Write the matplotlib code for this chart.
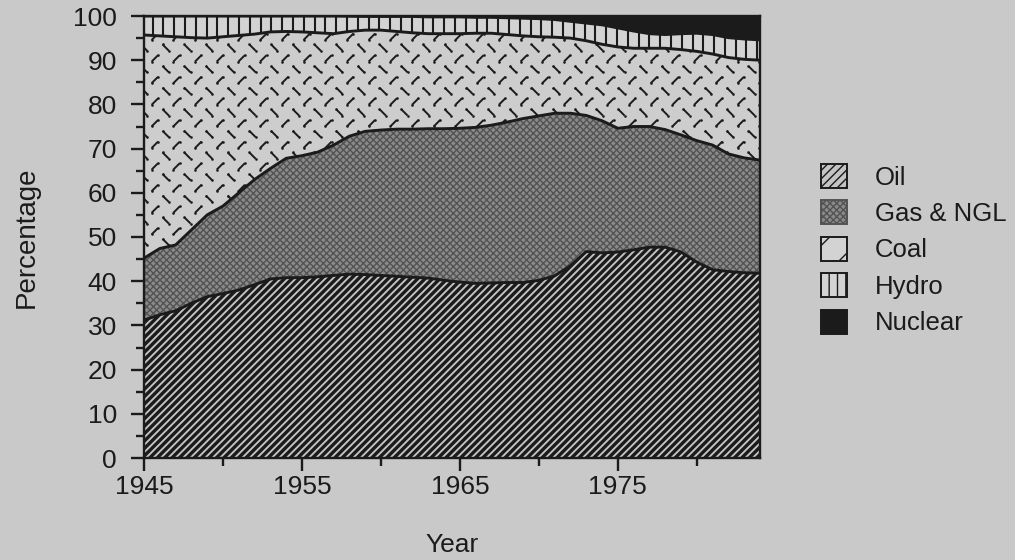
import numpy as np
import matplotlib
matplotlib.use("Agg")
import matplotlib.pyplot as plt
from matplotlib.collections import LineCollection
from matplotlib.patches import Patch

# ---------------- data (percent shares) ----------------
years = list(range(1945, 1985))
oil = [31.2, 32.4, 33.3, 35.0, 36.5, 37.2, 38.0, 39.2, 40.5, 40.8,
       40.8, 41.0, 41.3, 41.6, 41.5, 41.3, 41.1, 40.9, 40.7, 40.2,
       39.8, 39.5, 39.6, 39.7, 39.7, 40.2, 41.2, 43.5, 46.7, 46.4,
       46.6, 47.1, 47.7, 47.7, 46.6, 44.3, 42.6, 42.2, 41.9, 41.8]
gas = [14.0, 15.0, 14.9, 16.6, 18.5, 19.8, 22.0, 23.8, 25.0, 27.0,
       27.6, 28.2, 29.5, 31.2, 32.4, 32.9, 33.3, 33.5, 33.8, 34.3,
       34.8, 35.3, 35.7, 36.3, 37.1, 37.2, 36.8, 34.5, 30.8, 29.9,
       28.0, 27.9, 27.3, 26.6, 26.5, 27.5, 28.2, 26.6, 26.0, 25.6]
coal = [50.5, 48.1, 47.1, 43.5, 40.0, 38.3, 35.6, 32.9, 30.9, 28.7,
        28.0, 27.0, 25.2, 23.7, 22.9, 22.6, 22.1, 21.8, 21.5, 21.5,
        21.4, 21.3, 20.8, 19.8, 18.7, 17.9, 17.2, 17.0, 16.9, 17.3,
        18.4, 17.7, 17.7, 18.4, 19.3, 20.2, 20.6, 21.8, 22.3, 22.6]
hydro = [4.3, 4.5, 4.7, 4.9, 5.0, 4.7, 4.4, 4.1, 3.6, 3.5,
         3.6, 3.8, 4.0, 3.45, 3.1, 3.1, 3.4, 3.7, 3.8, 3.8,
         3.8, 3.6, 3.6, 3.8, 4.0, 4.1, 4.0, 3.8, 4.0, 4.4,
         4.3, 3.9, 3.3, 3.1, 3.6, 4.1, 4.4, 4.5, 4.6, 4.6]
nuclear = [0.0, 0.0, 0.0, 0.0, 0.0, 0.0, 0.0, 0.0, 0.0, 0.0,
           0.0, 0.0, 0.0, 0.05, 0.1, 0.1, 0.1, 0.1, 0.2, 0.2,
           0.2, 0.3, 0.3, 0.4, 0.5, 0.6, 0.8, 1.2, 1.6, 2.0,
           2.7, 3.4, 4.0, 4.2, 4.0, 3.9, 4.2, 4.9, 5.2, 5.4]
labels = ["Oil", "Gas & NGL", "Coal", "Hydro", "Nuclear"]
x_major = [1945, 1955, 1965, 1975]
x_minor = [1950, 1960, 1970, 1980]

# ---------------- style ----------------
plt.rcParams['font.family'] = ['Liberation Sans', 'DejaVu Sans']
BG = '#c9c9c9'
INK = '#1b1b1b'
FS = 19

fig = plt.figure(figsize=(10.15, 5.6), dpi=100, facecolor=BG)
W, H = 1015, 560
ax = fig.add_axes([144 / W, 1 - 458 / H, (760 - 144) / W, (458 - 16) / H])
ax.set_facecolor(BG)
ax.set_xlim(1945, 1984)
ax.set_ylim(0, 100)
axw, axh = 616.0, 442.0

x = np.array(years, float)
b0 = np.zeros(len(x))
b1 = b0 + np.array(oil)
b2 = b1 + np.array(gas)
b3 = b2 + np.array(coal)
b4 = b3 + np.array(hydro)
b5 = b4 + np.array(nuclear)

# oil: light base + dense diagonal stripes
p_oil = ax.fill_between(x, b0, b1, facecolor='#c4c4c4', lw=0, zorder=1)
step = 7.4 / axw
starts = np.arange(-1.0, 1.0 + step, step)
segs = [[(s, 0), (s + axh / axw, 1)] for s in starts]
lc = LineCollection(segs, colors=INK, linewidths=2.4, transform=ax.transAxes, zorder=2)
lc.set_clip_path(p_oil.get_paths()[0], ax.transData)
ax.add_collection(lc)

# gas: stippled gray
p_gas = ax.fill_between(x, b1, b2, facecolor='#8a8a8a', edgecolor='#535353',
                        hatch='xxxxx', lw=0, zorder=1)

# coal: light with small alternating dashes
p_coal = ax.fill_between(x, b2, b3, facecolor='#cdcdcd', lw=0, zorder=1)
dx, dy, hl = 21.7, 10.8, 3.2
segs = []
dots = []
row = 0
yy = 0.0
while yy < axh + dy:
    off = (dx / 2) * (row % 2)
    sgn = 1 if row % 2 else -1
    xx = off - dx
    while xx < axw + dx:
        p1 = ((xx - hl) / axw, (yy - sgn * hl) / axh)
        p2 = ((xx + hl) / axw, (yy + sgn * hl) / axh)
        segs.append([p1, p2])
        dots.extend([p1, p2])
        xx += dx
    yy += dy
    row += 1
lc2 = LineCollection(segs, colors=INK, linewidths=1.4, transform=ax.transAxes, zorder=2)
lc2.set_clip_path(p_coal.get_paths()[0], ax.transData)
ax.add_collection(lc2)
dots = np.array(dots)
sc = ax.scatter(dots[:, 0], dots[:, 1], s=3.5, c=INK, lw=0, transform=ax.transAxes, zorder=2)
sc.set_clip_path(p_coal.get_paths()[0], ax.transData)

# hydro: light with vertical bars
p_hyd = ax.fill_between(x, b3, b4, facecolor='#d3d3d3', lw=0, zorder=1)
vx = np.arange(1945 + 0.55, 1984, 10.8 / 15.8)
vl = ax.vlines(vx, 0, 100, colors=INK, linewidths=1.5, zorder=2)
vl.set_clip_path(p_hyd.get_paths()[0], ax.transData)

# nuclear: solid black
ax.fill_between(x, b4, b5, facecolor=INK, lw=0, zorder=1)

for b in (b1, b2, b3, b4):
    ax.plot(x, b, color=INK, lw=2.1, zorder=3, solid_capstyle='butt')

# axes & ticks
for s in ax.spines.values():
    s.set_linewidth(1.7)
    s.set_color(INK)
    s.set_zorder(4)
ax.set_xticks(x_major)
ax.set_xticks(x_minor, minor=True)
ax.set_yticks(np.arange(0, 101, 10))
ax.set_yticks(np.arange(5, 100, 10), minor=True)
ax.tick_params(which='major', direction='out', length=9.5, width=1.7, color=INK,
               labelsize=FS, labelcolor=INK)
ax.tick_params(which='minor', direction='out', length=5.5, width=1.7, color=INK)
ax.tick_params(axis='y', which='major', pad=10)
ax.tick_params(axis='x', which='major', pad=3)
ax.set_xlabel('Year', fontsize=FS, color=INK, labelpad=24)
ax.set_ylabel('Percentage', fontsize=20, color=INK, labelpad=24)

# legend
handles = [
    Patch(facecolor='#c4c4c4', edgecolor=INK, hatch='////', lw=1.4),
    Patch(facecolor='#8a8a8a', edgecolor='#535353', hatch='xxxxx', lw=1.4),
    Patch(facecolor='#d3d3d3', edgecolor=INK, hatch='/', lw=1.4),
    Patch(facecolor='#d3d3d3', edgecolor=INK, hatch='||', lw=1.4),
    Patch(facecolor=INK, edgecolor=INK, lw=1.4),
]
leg = fig.legend(handles, labels, loc='upper left',
                 bbox_to_anchor=(808 / W, 1 - 151 / H), frameon=False,
                 fontsize=18.5, handlelength=1.0, handleheight=1.05,
                 handletextpad=1.1, labelspacing=0.42, borderpad=0)
for t in leg.get_texts():
    t.set_color(INK)

fig.savefig('out.png', dpi=100, facecolor=BG)
